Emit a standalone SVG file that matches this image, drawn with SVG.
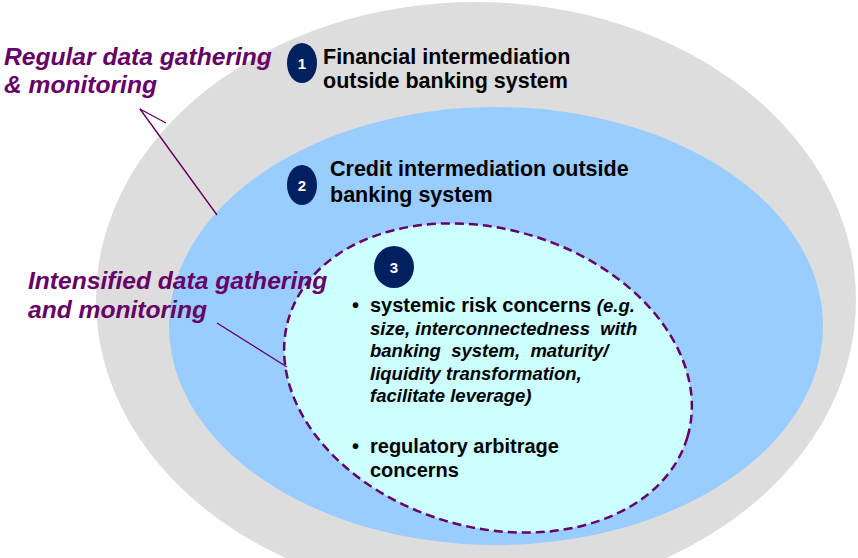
<svg xmlns="http://www.w3.org/2000/svg" width="858" height="558" viewBox="0 0 858 558">
  <style>
    .t { font-family: "Liberation Sans", Arial, sans-serif; font-weight: bold; fill: #000; }
    .h { font-size: 21.5px; }
    .b { font-size: 20px; }
    .i { font-style: italic; }
    .lbl { font-family: "Liberation Sans", Arial, sans-serif; font-weight: bold; font-style: italic; font-size: 24.6px; fill: #660066; }
    .num { fill: #002060; }
    .numt { font-family: "Liberation Sans", Arial, sans-serif; font-weight: bold; font-size: 15px; fill: #fff; text-anchor: middle; }
    .lead { stroke: #660066; stroke-width: 1.4; fill: none; }
  </style>

  <!-- outer scope: financial intermediation -->
  <g id="scope-financial">
    <ellipse cx="476" cy="300" rx="380" ry="298" fill="#dddddd"/>
    <ellipse class="num" cx="302" cy="63" rx="15" ry="20"/>
    <text class="numt" x="302" y="68.5">1</text>
    <text class="t h" x="323" y="64">Financial intermediation</text>
    <text class="t h" x="323" y="88">outside banking system</text>
  </g>

  <!-- middle scope: credit intermediation -->
  <g id="scope-credit">
    <ellipse cx="496" cy="326" rx="327" ry="219" fill="#99ccff"/>
    <ellipse class="num" cx="302" cy="185" rx="15" ry="20"/>
    <text class="numt" x="302" y="190.5">2</text>
    <text class="t h" x="330" y="176">Credit intermediation outside</text>
    <text class="t h" x="330" y="202">banking system</text>
  </g>

  <!-- inner scope: concerns -->
  <g id="scope-concerns">
    <ellipse cx="488" cy="378" rx="208" ry="149" transform="rotate(16.5 488 378)" fill="#ccffff" stroke="#660066" stroke-width="2.5" stroke-dasharray="9 5"/>
    <ellipse class="num" cx="394" cy="267" rx="20" ry="21"/>
    <text class="numt" x="394" y="273">3</text>
    <text class="t b" x="352" y="312">•</text>
    <text class="t b" x="370" y="312">systemic risk concerns <tspan class="i" font-size="18.5">(e.g.</tspan></text>
    <text class="t i" font-size="18.5" x="370" y="334.5" xml:space="preserve">size, interconnectedness  with</text>
    <text class="t i" font-size="18.5" x="370" y="357" xml:space="preserve">banking  system,  maturity/</text>
    <text class="t i" font-size="18.5" x="370" y="379.5">liquidity transformation,</text>
    <text class="t i" font-size="18.5" x="370" y="402">facilitate leverage)</text>
    <text class="t b" x="352" y="453">•</text>
    <text class="t b" x="370" y="453">regulatory arbitrage</text>
    <text class="t b" x="370" y="477">concerns</text>
  </g>

  <!-- side labels -->
  <g id="label-regular">
    <text class="lbl" x="4" y="65">Regular data gathering</text>
    <text class="lbl" x="4" y="93">&amp; monitoring</text>
  </g>
  <g id="label-intensified">
    <text class="lbl" x="28" y="289">Intensified data gathering</text>
    <text class="lbl" x="28" y="318">and monitoring</text>
  </g>

  <!-- leader lines -->
  <g id="connectors">
    <polyline class="lead" points="166,123 140,109 217,215"/>
    <line class="lead" x1="217" y1="323" x2="287" y2="367"/>
  </g>
</svg>
